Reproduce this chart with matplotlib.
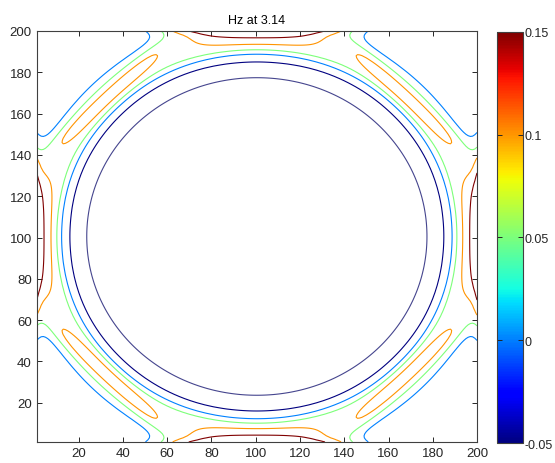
import matplotlib
matplotlib.use("Agg")
import matplotlib.pyplot as plt
import numpy as np
from matplotlib.colors import Normalize
from matplotlib.cm import ScalarMappable

plt.rcParams["font.family"] = ["Liberation Sans", "DejaVu Sans"]

# --- chart values -------------------------------------------------------
title = "Hz at 3.14"
grid_n = 200
levels = [-0.1, -0.05, 0.0, 0.05, 0.1, 0.15]
clim = [-0.05, 0.15]
xticks = [20, 40, 60, 80, 100, 120, 140, 160, 180, 200]
yticks = [20, 40, 60, 80, 100, 120, 140, 160, 180, 200]
cbar_ticks = [-0.05, 0.0, 0.05, 0.1, 0.15]
cbar_labels = ["-0.05", "0", "0.05", "0.1", "0.15"]

# field shape (grid units)
center = 100.5
wall_dist = 99.5
far_value = -0.03
core = [0.11, 79.6, 4.62]                  # depth, radius, softness
ring = [0.11, 89.5, 1.5, 102.0, 2.5]       # amp, inner r, inner w, outer r, outer w
diag_front = [0.055, 95.5, 4.5, 42.0, 6]   # amp, dist, width, half length, sharpness
wall_front = [0.19, 4.04, 42.7, 4.0]       # amp, decay, half length, sharpness


def sig(z):
    return 1.0 / (1.0 + np.exp(-z))


x = np.arange(1, grid_n + 1)
y = np.arange(1, grid_n + 1)
X, Y = np.meshgrid(x, y)
dx = np.abs(X - center)
dy = np.abs(Y - center)
r = np.hypot(dx, dy)

hz = far_value - core[0] * sig((core[1] - r) / core[2])
hz += ring[0] * (sig((r - ring[1]) / ring[2]) - sig((r - ring[3]) / ring[4]))

s_d = (dx + dy) / np.sqrt(2)
t_d = np.abs(dx - dy) / np.sqrt(2)
a, d0, w, L, p = diag_front
hz += a * np.exp(-((s_d - d0) / w) ** 2) * np.exp(-(t_d / L) ** p)

a, lam, L, p = wall_front
hz += a * np.exp((dx - wall_dist) / lam) * np.exp(-(dy / L) ** p)
hz += a * np.exp((dy - wall_dist) / lam) * np.exp(-(dx / L) ** p)

# --- figure -------------------------------------------------------------
fig = plt.figure(figsize=(5.55, 4.64), dpi=100)
ax = fig.add_axes([0.0661, 0.0453, 0.7934, 0.8858])
cax = fig.add_axes([0.895, 0.0431, 0.048, 0.8864])

norm = Normalize(vmin=clim[0], vmax=clim[1])
jet = plt.get_cmap("jet")
line_colors = [jet(norm(v)) for v in levels]
line_colors[0] = "#45458e"   # below the colour range, drawn a little lighter
ax.contour(X, Y, hz, levels=levels, colors=line_colors, linewidths=0.8)

ax.set_xlim(1, grid_n)
ax.set_ylim(1, grid_n)
ax.set_xticks(xticks)
ax.set_yticks(yticks)
ax.tick_params(direction="in", top=True, right=True, length=3.5,
               labelsize=9.5, colors="#262626", width=0.7)
for sp in ax.spines.values():
    sp.set_color("#404040")
    sp.set_linewidth(0.8)
ax.set_title(title, fontsize=9, pad=6)

sm = ScalarMappable(norm=norm, cmap="jet")
cb = fig.colorbar(sm, cax=cax, ticks=cbar_ticks)
cb.ax.set_yticklabels(cbar_labels)
cax.tick_params(direction="in", left=True, right=True, length=3.5, pad=1.0,
                labelsize=9, colors="#262626", width=0.7)
cb.outline.set_edgecolor("#404040")
cb.outline.set_linewidth(0.8)

fig.savefig("out.png", dpi=100)
